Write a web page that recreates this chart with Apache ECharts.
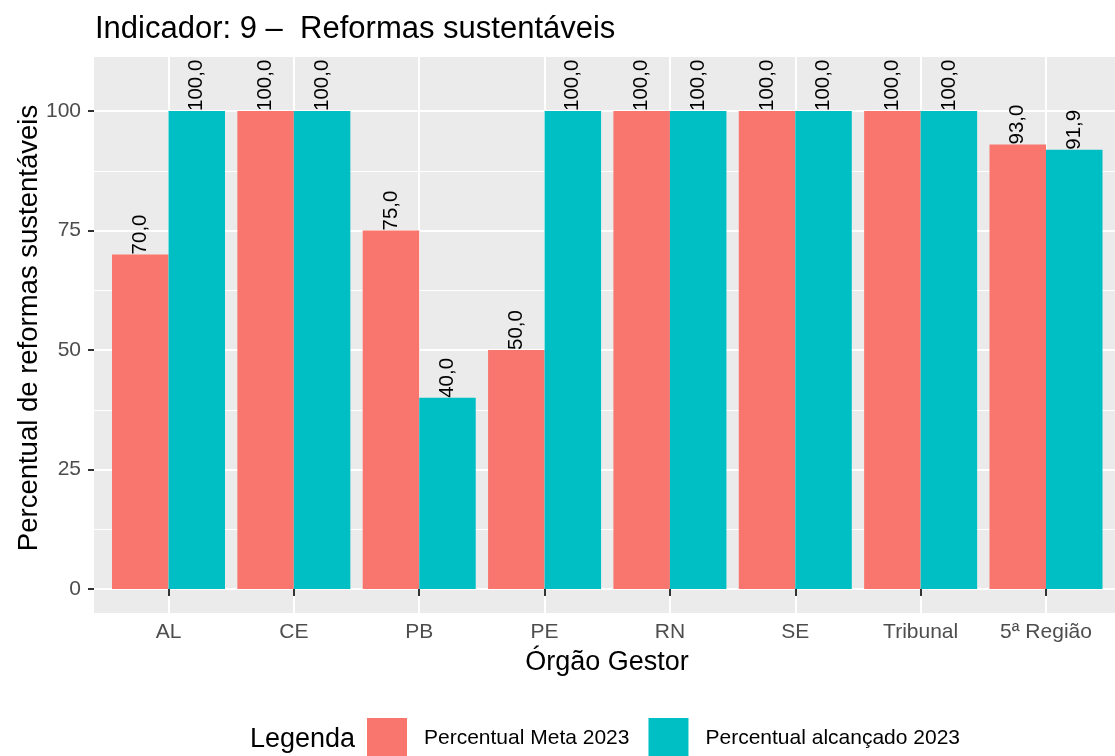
<!DOCTYPE html>
<html>
<head>
<meta charset="utf-8">
<script src="https://cdn.jsdelivr.net/npm/echarts@6/dist/echarts.min.js"></script>
<style>
  html, body { margin: 0; padding: 0; background: #fff; }
  #chart { width: 1115px; height: 756px; }
</style>
</head>
<body>
<div id="chart"></div>
<script>
/*
 * Dados do indicador
 */
var categorias = ['AL', 'CE', 'PB', 'PE', 'RN', 'SE', 'Tribunal', '5ª Região'];
var metaPercentual = [70, 100, 75, 50, 100, 100, 100, 93];
var alcancadoPercentual = [100, 100, 40, 100, 100, 100, 100, 91.9];
var yTicks = [0, 25, 50, 75, 100];

var FONTE = 'Liberation Sans, Arial, sans-serif';

var formatarValor = function(v) {
	return v.toFixed(1).replace('.', ',');
};

var rotulo = {
	show: true,
	position: 'top',
	rotate: 90,
	align: 'left',
	verticalAlign: 'middle',
	distance: 0,
	fontSize: 20.5,
	color: '#000',
	fontFamily: FONTE,
	formatter: function(p) { return formatarValor(p.value); }
};

var chart = echarts.init(document.getElementById('chart'));
var option = {
	animation: false,
	textStyle: { fontFamily: FONTE },
	title: {
		text: 'Indicador: 9 –  Reformas sustentáveis',
		left: 90,
		top: 9,
		textStyle: { fontSize: 31, fontWeight: 'normal', color: '#000', fontFamily: FONTE }
	},
	grid: [
		// painel cinza
		{ left: 94, right: 0, top: 57, bottom: 143, show: true, z: -1,
		  backgroundColor: '#EBEBEB', borderWidth: 0 },
		// eixo y (0 a 100)
		{ left: 94, right: 0, top: 111, bottom: 167 },
		// barras
		{ left: 168.5, right: 69, top: 57, bottom: 143 }
	],
	xAxis: [
		{ gridIndex: 0, type: 'value', show: false, min: 0, max: 1 },
		{ gridIndex: 1, type: 'value', show: false, min: 0, max: 1 },
		{
			gridIndex: 2,
			type: 'category',
			data: categorias,
			boundaryGap: false,
			axisLine: { show: false },
			axisTick: { show: true, length: 7, lineStyle: { color: '#333', width: 2 } },
			axisLabel: { fontSize: 21, color: '#4D4D4D', margin: 9, fontFamily: FONTE },
			splitLine: { show: true, lineStyle: { color: '#fff', width: 2 } }
		}
	],
	yAxis: [
		{ gridIndex: 0, type: 'value', show: false, min: 0, max: 1 },
		{
			gridIndex: 1,
			type: 'value',
			min: yTicks[0],
			max: yTicks[yTicks.length - 1],
			interval: 25,
			axisLine: { show: false },
			axisTick: { show: true, length: 6, lineStyle: { color: '#333', width: 2 } },
			axisLabel: { fontSize: 21, color: '#4D4D4D', margin: 13, fontFamily: FONTE },
			splitLine: { show: true, lineStyle: { color: '#fff', width: 2 } },
			minorTick: { show: false, splitNumber: 2 },
			minorSplitLine: { show: true, lineStyle: { color: '#fff', width: 1 } }
		},
		{ gridIndex: 2, type: 'value', show: false, min: -5.02, max: 111.3 }
	],
	legend: {
		left: 367,
		top: 718,
		padding: 0,
		icon: 'rect',
		itemWidth: 40,
		itemHeight: 40,
		itemGap: 19,
		selectedMode: false,
		textStyle: { fontSize: 21, color: '#000', padding: [0, 0, 0, 12], fontFamily: FONTE },
		data: ['Percentual Meta 2023', 'Percentual alcançado 2023']
	},
	graphic: [
		{
			type: 'text', left: 250, top: 726,
			style: { text: 'Legenda', fill: '#000', font: '27px Liberation Sans' }
		},
		{
			type: 'text', x: 607, y: 663,
			style: { text: 'Órgão Gestor', fill: '#000', font: '27px Liberation Sans',
				textAlign: 'center', textVerticalAlign: 'middle' }
		},
		{
			type: 'text', x: 29, y: 328, rotation: Math.PI / 2,
			style: { text: 'Percentual de reformas sustentáveis', fill: '#000', font: '27.5px Liberation Sans',
				textAlign: 'center', textVerticalAlign: 'middle' }
		}
	],
	series: [
		{
			name: 'Percentual Meta 2023',
			type: 'bar',
			xAxisIndex: 2,
			yAxisIndex: 2,
			data: metaPercentual,
			barWidth: 56.5,
			barGap: '0%',
			clip: false,
			itemStyle: { color: '#F8766D' },
			label: rotulo
		},
		{
			name: 'Percentual alcançado 2023',
			type: 'bar',
			xAxisIndex: 2,
			yAxisIndex: 2,
			data: alcancadoPercentual,
			barWidth: 56.5,
			barGap: '0%',
			clip: false,
			itemStyle: { color: '#00BFC4' },
			label: rotulo
		}
	]
};
chart.setOption(option);
</script>
</body>
</html>
